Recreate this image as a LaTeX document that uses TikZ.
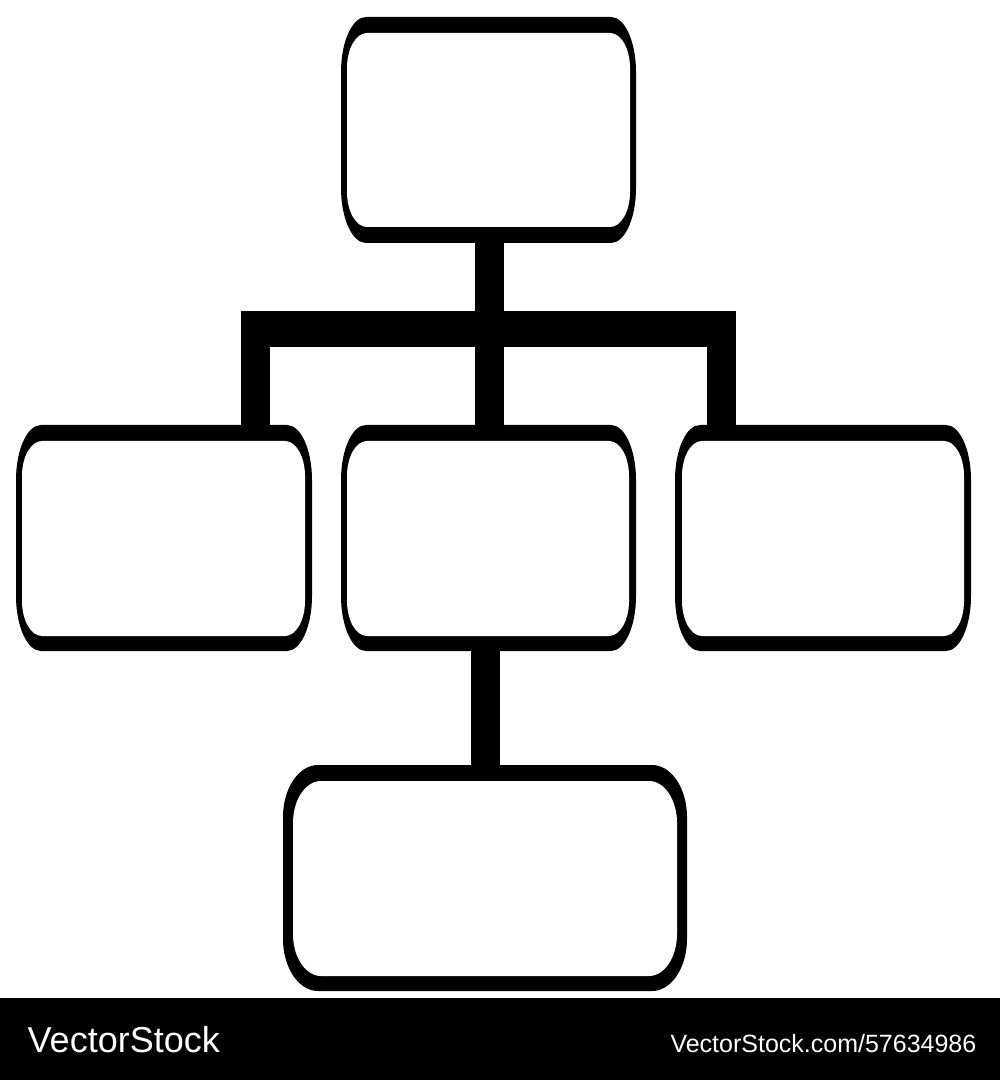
\documentclass[tikz,border=0pt]{standalone}
\usepackage{fontspec}
\setmainfont{Liberation Sans}
% rounded shape with elliptical corners: L T R B rx ry colour
\newcommand\rrshape[7]{%
  \fill[#7] (#1+#5,#2) -- (#3-#5,#2)
    arc[start angle=-90,end angle=0,x radius=#5,y radius=#6]
    -- (#3,#4-#6)
    arc[start angle=0,end angle=90,x radius=#5,y radius=#6]
    -- (#1+#5,#4)
    arc[start angle=90,end angle=180,x radius=#5,y radius=#6]
    -- (#1,#2+#6)
    arc[start angle=180,end angle=270,x radius=#5,y radius=#6]
    -- cycle;}
\begin{document}
\begin{tikzpicture}[x=0.01cm,y=-0.01cm,
  conn/.style={line width=0.29cm, black, line cap=butt},
  bar/.style={line width=0.36cm, black, line cap=butt},
  anchorbox/.style={rectangle, inner sep=0pt, outer sep=0pt, minimum height=2.26cm},
  foot/.style={text=white, inner sep=0pt}]
\useasboundingbox (0,0) rectangle (1000,1080);
\fill[white] (0,0) rectangle (1000,1080);

% named (invisible) node frames
\node[anchorbox, minimum width=2.95cm] (top) at (488.5,130) {};
\node[anchorbox, minimum width=2.96cm] (l) at (164,538) {};
\node[anchorbox, minimum width=2.95cm] (m) at (488.5,538) {};
\node[anchorbox, minimum width=2.96cm] (r) at (823,538) {};
\node[anchorbox, minimum width=4.04cm] (b) at (485,878) {};

\coordinate (jc) at (489.5,329);
\coordinate (jl) at (255.5,329);
\coordinate (jr) at (721.5,329);
\coordinate (bx) at (485.5,700);

% connectors
\draw[conn] (top.south -| jc) -- (jc);
\draw[conn] (jc) -- (m.north -| jc);
\draw[conn] (jl) -- (l.north -| jl);
\draw[conn] (jr) -- (r.north -| jr);
\draw[bar] ([xshift=-0.145cm]jl) -- ([xshift=0.145cm]jr);
\draw[conn] (m.south -| bx) -- (b.north -| bx);

% boxes
\rrshape{341}{17}{636}{243}{25}{55}{black}
\rrshape{347}{33}{630}{227}{20}{35}{white}
\rrshape{16}{425}{312}{651}{25}{55}{black}
\rrshape{22}{441}{305}{636}{20}{35}{white}
\rrshape{341}{425}{636}{651}{25}{55}{black}
\rrshape{347}{441}{629}{636}{20}{35}{white}
\rrshape{675}{425}{971}{651}{25}{55}{black}
\rrshape{682}{441}{964}{636}{20}{35}{white}
\rrshape{283}{765}{687}{991}{35}{52}{black}
\rrshape{293}{781}{677}{976}{28}{42}{white}

% footer
\fill[black] (0,998) rectangle (1000,1080);
\node[foot, anchor=base west, font=\fontsize{10.24}{12}\selectfont] (logo) at (27,1052) {VectorStock};
\node[foot, anchor=base east, font=\fontsize{7.11}{9}\selectfont] (url) at (977,1052) {VectorStock.com/57634986};
\end{tikzpicture}
\end{document}
